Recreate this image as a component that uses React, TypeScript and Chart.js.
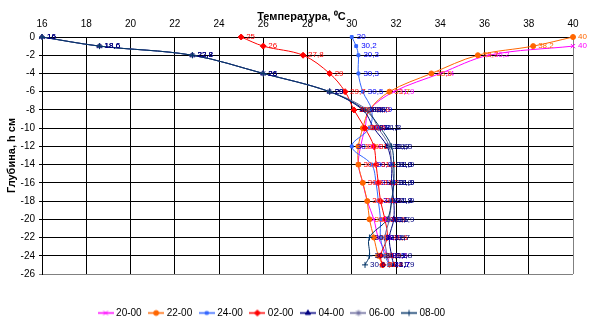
import React, { useEffect, useRef } from 'react';
import { Chart, registerables } from 'chart.js';
import { drawPoint } from 'chart.js/helpers';

Chart.register(...registerables);

// ---- data ----
const depths = [0, -1, -2, -4, -6, -8, -10, -12, -14, -16, -18, -20, -22, -24, -25];
const seriesNames = ['20-00', '22-00', '24-00', '02-00', '04-00', '06-00', '08-00'];
const t2000 = [null, 40, 36.2, 34, 31.9, 30.8, 30.6, 30.4, 30.3, 30.5, 30.7, 31.0, 31.2, 31.6, 31.7];
const t2200 = [40, 38.2, 35.7, 33.6, 31.7, 30.8, 30.5, 30.3, 30.3, 30.5, 30.7, 30.8, 31.0, 31.2, 31.4];
const t2400 = [30, 30.2, 30.3, 30.3, 30.5, 30.9, 30.8, 30, 30.9, 31.1, 31.2, 31.3, 31.3, 31.5, 31.7];
const t0200 = [25, 26, 27.8, 29, 29.7, 30.1, 30.6, 31, 31.1, 31.2, 31.3, 31.5, 31.6, 31.3, 31.4];
const t0400 = [16, 18.6, 22.8, 26, 29, 30.5, 31, 31.6, 31.8, 31.8, 31.9, 31.9, 31.7, 31.8, 31.9];
const t0600 = [16, 18.6, 22.8, 26, 29, 30.7, 31.2, 31.7, 31.8, 31.9, 31.8, 31.7, 31.5, 31.6, 31.7];
const t0800 = [16, 18.6, 22.8, 26, 29, 30.6, 31.3, 31.8, 31.9, 31.9, 31.8, 31.6, 30.8, 30.8, 30.6];
const seriesTemps = [t2000, t2200, t2400, t0200, t0400, t0600, t0800];

const xTickValues = [16, 18, 20, 22, 24, 26, 28, 30, 32, 34, 36, 38, 40];
const yTickValues = [0, -2, -4, -6, -8, -10, -12, -14, -16, -18, -20, -22, -24, -26];
const xTitle = 'Температура, \u2070C';
const yTitle = 'Глубина, h см';

// ---- styles ----
const lineColors = ['#FF00FF', '#FF6600', '#3366FF', '#FF0000', '#000080', '#666699', '#003366'];
const labelColors = ['#FF00FF', '#FF6600', '#0000FF', '#FF0000', '#000080', '#000080', '#000080'];
const markers = ['crossRot', 'circle', 'rect', 'rectRot', 'triangle', 'star', 'cross'];
const markerRadius = [3, 2.5, 2, 3, 3, 3, 3];

const FONT = '"Liberation Sans", Arial, sans-serif';

const fmt = (v: number) => String(v).replace('.', ',');

function makeLegendImage(color: string, style: string, radius: number) {
  const c = document.createElement('canvas');
  c.width = 16;
  c.height = 9;
  const ctx = c.getContext('2d')!;
  ctx.strokeStyle = color;
  ctx.lineWidth = 1.5;
  ctx.beginPath();
  ctx.moveTo(0, 4.5);
  ctx.lineTo(16, 4.5);
  ctx.stroke();
  ctx.fillStyle = color;
  ctx.lineWidth = 1;
  drawPoint(ctx, { pointStyle: style, radius, rotation: 0, borderWidth: 1 } as any, 8, 4.5);
  return c;
}

const pointLabels = {
  id: 'pointLabels',
  afterDatasetsDraw(chart: any) {
    const ctx = chart.ctx;
    ctx.save();
    ctx.font = '8px ' + FONT;
    ctx.textBaseline = 'middle';
    ctx.textAlign = 'left';
    chart.data.datasets.forEach((ds: any, i: number) => {
      const meta = chart.getDatasetMeta(i);
      ctx.fillStyle = labelColors[i];
      meta.data.forEach((el: any, j: number) => {
        ctx.fillText(fmt(ds.data[j].x), el.x + 5, el.y);
      });
    });
    ctx.restore();
  },
};

const legendSizer = {
  id: 'legendSizer',
  beforeUpdate(chart: any) {
    const lg = chart.legend;
    if (lg && !lg.__wrapped) {
      const orig = lg.fit.bind(lg);
      lg.fit = function () {
        orig();
        this.height = 54;
      };
      lg.__wrapped = true;
    }
  },
};

export default function App() {
  const ref = useRef<HTMLCanvasElement>(null);
  useEffect(() => {
    document.body.style.margin = '0';
    const n = seriesNames.length;
    const datasets = seriesNames.map((name, i) => {
      const pts = depths
        .map((d, j) => ({ x: seriesTemps[i][j], y: d }))
        .filter((p) => p.x !== null && p.x !== undefined);
      return {
        label: name,
        data: pts,
        showLine: true,
        borderColor: lineColors[i],
        backgroundColor: lineColors[i],
        borderWidth: 1,
        pointStyle: markers[i],
        pointRadius: markerRadius[i],
        pointBorderWidth: 1,
        pointBorderColor: lineColors[i],
        pointBackgroundColor: lineColors[i],
        tension: 0.35,
        clip: false,
        order: n - i,
      };
    });
    const legendImgs = seriesNames.map((_, i) => makeLegendImage(lineColors[i], markers[i], markerRadius[i]));
    const blank = document.createElement('canvas');
    blank.width = 1;
    blank.height = 1;

    const gridColor = (gray: number) => (c: any) => (c.tick && c.tick.value === gray ? '#808080' : '#000000');

    const chart = new Chart(ref.current!, {
      type: 'scatter',
      data: { datasets: datasets as any },
      options: {
        animation: false,
        responsive: false,
        devicePixelRatio: 1,
        layout: { padding: { left: 0, right: 18, top: 0, bottom: 0 } },
        scales: {
          x: {
            type: 'linear',
            position: 'top',
            min: xTickValues[0],
            max: xTickValues[xTickValues.length - 1],
            afterFit: (s: any) => {
              s.height = 37;
            },
            ticks: { stepSize: 2, color: '#000', font: { family: FONT, size: 10 }, padding: 7, maxRotation: 0 },
            grid: { color: gridColor(40), lineWidth: 1, drawTicks: false },
            border: { color: '#000', width: 1 },
            title: {
              display: true,
              text: xTitle + '    ',
              color: '#000',
              font: { family: FONT, size: 11, weight: 'bold' },
              padding: { top: 10, bottom: 0 },
            },
          },
          y: {
            type: 'linear',
            min: yTickValues[yTickValues.length - 1],
            max: yTickValues[0],
            afterFit: (s: any) => {
              s.width = 42;
            },
            ticks: { stepSize: 2, color: '#000', font: { family: FONT, size: 10 }, padding: 4 },
            grid: { color: gridColor(-26), lineWidth: 1, drawTicks: true, tickLength: 3 },
            border: { color: '#000', width: 1 },
            title: {
              display: true,
              text: yTitle,
              color: '#000',
              font: { family: FONT, size: 11, weight: 'bold' },
              padding: { top: 5, bottom: 0 },
            },
          },
        },
        plugins: {
          tooltip: { enabled: false },
          legend: {
            display: true,
            position: 'bottom',
            align: 'center',
            title: { display: true, text: ' ', font: { size: 10 }, padding: { top: 13, bottom: 0 } },
            labels: {
              usePointStyle: true,
              pointStyleWidth: 11,
              padding: 9,
              color: '#000',
              font: { family: FONT, size: 10 },
              generateLabels: () => {
                const items: any[] = seriesNames.map((name, i) => ({
                  text: name,
                  fillStyle: lineColors[i],
                  strokeStyle: lineColors[i],
                  lineWidth: 0,
                  pointStyle: legendImgs[i],
                  hidden: false,
                  datasetIndex: i,
                  fontColor: '#000',
                }));
                items.push({
                  text: ' ',
                  fillStyle: 'rgba(0,0,0,0)',
                  strokeStyle: 'rgba(0,0,0,0)',
                  lineWidth: 0,
                  pointStyle: blank,
                  hidden: false,
                  fontColor: 'rgba(0,0,0,0)',
                });
                return items;
              },
            },
          },
        },
      } as any,
      plugins: [pointLabels, legendSizer],
    });
    return () => chart.destroy();
  }, []);
  return (
    <div style={{ width: 591, height: 328 }}>
      <canvas ref={ref} width={591} height={328} />
    </div>
  );
}
